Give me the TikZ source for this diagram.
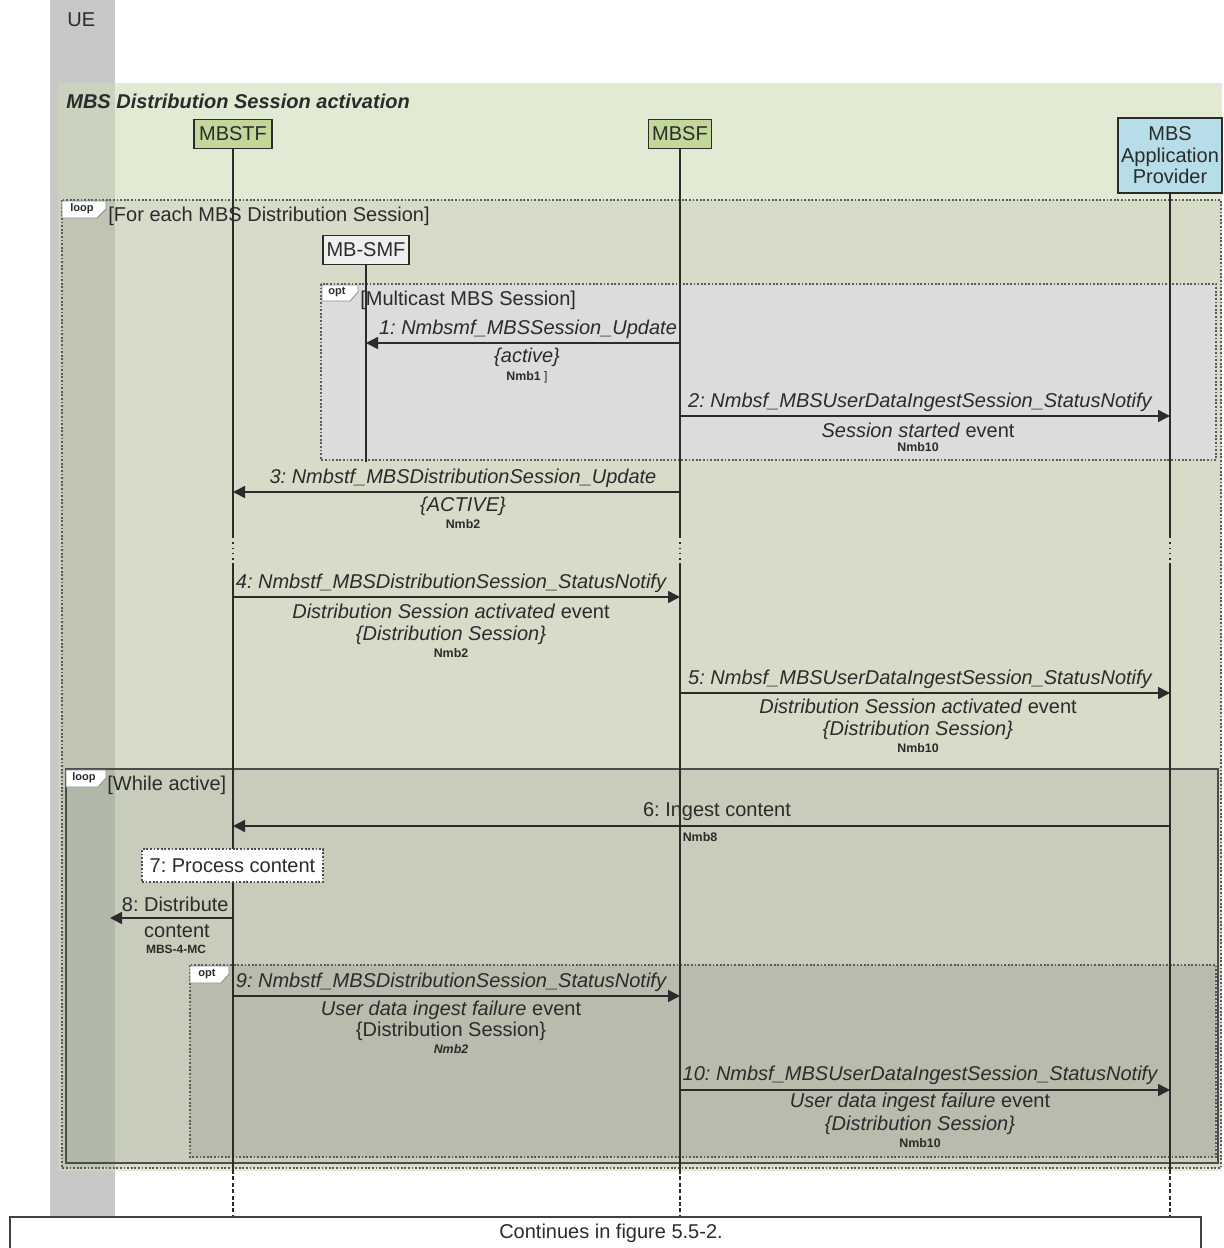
\documentclass[tikz,border=0pt]{standalone}
\usepackage{fontspec}
\setmainfont{Liberation Sans}
\usetikzlibrary{arrows.meta}
\frenchspacing
\definecolor{colgray}{HTML}{C8C8C8}
\definecolor{bggreen}{HTML}{E3EAD4}
\definecolor{loopgreen}{HTML}{D6DCC8}
\definecolor{optgray}{HTML}{DCDCDC}
\definecolor{innerloop}{HTML}{C7CDBA}
\definecolor{inneropt}{HTML}{B7BCAD}
\definecolor{headgreen}{HTML}{C4D79B}
\definecolor{headblue}{HTML}{B7DDE8}
\definecolor{smfgray}{HTML}{EFEFEF}
\definecolor{ink}{HTML}{2B2B2B}
\tikzset{
 lane/.style={draw=ink, line width=0.65pt},
 msg/.style={draw=ink, line width=0.75pt, -{Triangle[length=6pt,width=6pt]}},
 txt/.style={inner sep=0pt, text=ink, font=\fontsize{10}{12}\selectfont},
 itx/.style={inner sep=0pt, text=ink, font=\fontsize{10}{12}\selectfont\itshape},
 sm/.style={inner sep=0pt, text=ink, font=\fontsize{6.2}{7}\selectfont\bfseries},
 head/.style={draw=ink, line width=0.6pt, inner sep=0pt, text=ink, font=\fontsize{10}{10.8}\selectfont, align=center},
 frdot/.style={draw=black!65, line width=0.6pt, dash pattern=on 0.9pt off 0.9pt},
 tagbox/.style={fill=white, draw=black!45, line width=0.4pt},
 tagtxt/.style={inner sep=0pt, text=ink, font=\fontsize{5.5}{5.5}\selectfont\bfseries},
}
\begin{document}
\begin{tikzpicture}[x=0.5pt,y=-0.5pt]
\useasboundingbox (0,0) rectangle (1224,1248);
\fill[white] (0,0) rectangle (1224,1248);
% UE column
\fill[colgray] (50,0) rectangle (115,1217);
\node[txt, anchor=west] (ue) at (67,20) {UE};
% frames backgrounds
\fill[bggreen] (58,83) rectangle (1222,1171);
\fill[loopgreen] (62,200) rectangle (1221,1168);
\fill[optgray] (321,284) rectangle (1216,460);
\fill[innerloop] (66,769) rectangle (1218,1163);
\fill[inneropt] (190,965) rectangle (1216,1157);
% darker strip where the UE column lies under the frames
\fill[black, opacity=0.1] (58,83) rectangle (115,1171);
% frame borders
\draw[frdot] (62,200) rectangle (1221,1168);
\draw[frdot] (321,284) rectangle (1216,460);
\draw[draw=black!70, line width=0.6pt] (66,769) rectangle (1218,1163);
\draw[frdot] (190,965) rectangle (1216,1157);
% tags
\draw[tagbox] (62,201) -- (106,201) -- (106,209) -- (97,218) -- (62,218) -- cycle;
\node[tagtxt] (tag1) at (82,209) {loop};
\draw[tagbox] (322,285) -- (358,285) -- (358,292) -- (350,301) -- (322,301) -- cycle;
\node[tagtxt] (tag2) at (337,292) {opt};
\draw[tagbox] (66,770) -- (106,770) -- (106,778) -- (98,787) -- (66,787) -- cycle;
\node[tagtxt] (tag3) at (84,778) {loop};
\draw[tagbox] (190,966) -- (229,966) -- (229,974) -- (221,983) -- (190,983) -- cycle;
\node[tagtxt] (tag4) at (207,974) {opt};
% frame titles
\node[inner sep=0pt, text=ink, font=\fontsize{10}{12}\selectfont\bfseries\itshape, anchor=west] (title) at (66,101) {MBS Distribution Session activation};
\node[txt, anchor=west] (c1) at (108,216) {[For each MBS Distribution Session]};
\node[txt, anchor=west] (c2) at (360,300) {[Multicast MBS Session]};
\node[txt, anchor=west] (c3) at (107,785) {[While active]};
% lifeline heads
\node[head, fill=headgreen, minimum width=39pt, minimum height=14.5pt] (mbstf) at (233,134) {MBSTF};
\node[head, fill=headgreen, minimum width=31.5pt, minimum height=14.5pt] (mbsf) at (680,134) {MBSF};
\node[head, fill=headblue, minimum width=52pt, minimum height=37.5pt] (ap) at (1170,155.5) {MBS\\Application\\Provider};
\node[head, fill=smfgray, minimum width=43pt, minimum height=14.5pt] (smf) at (366,250) {MB-SMF};
% lifeline coordinates
\coordinate (stf1) at (233,537); \coordinate (stf2) at (233,563); \coordinate (stf3) at (233,1170); \coordinate (stf4) at (233,1217);
\coordinate (sf1) at (680,537); \coordinate (sf2) at (680,563); \coordinate (sf3) at (680,1170); \coordinate (sf4) at (680,1217);
\coordinate (ap1) at (1170,537); \coordinate (ap2) at (1170,563); \coordinate (ap3) at (1170,1170); \coordinate (ap4) at (1170,1217);
\coordinate (smf1) at (366,462);
\draw[lane] (mbstf.south) -- (stf1); \draw[lane, dotted] (stf1) -- (stf2); \draw[lane] (stf2) -- (stf3); \draw[lane, dash pattern=on 2pt off 1.2pt] (stf3) -- (stf4);
\draw[lane] (mbsf.south) -- (sf1); \draw[lane, dotted] (sf1) -- (sf2); \draw[lane] (sf2) -- (sf3); \draw[lane, dash pattern=on 2pt off 1.2pt] (sf3) -- (sf4);
\draw[lane] (ap.south) -- (ap1); \draw[lane, dotted] (ap1) -- (ap2); \draw[lane] (ap2) -- (ap3); \draw[lane, dash pattern=on 2pt off 1.2pt] (ap3) -- (ap4);
\draw[lane] (smf.south) -- (smf1);
% message 1
\coordinate (m1a) at (680,343); \coordinate (m1b) at (366,343);
\draw[msg] (m1a) -- (m1b);
\node[itx] (l1a) at (528,329) {1: Nmbsmf\_MBSSession\_Update};
\node[itx] (l1b) at (527,357) {\{active\}};
\node[sm] (l1c) at (527,377) {Nmb1 \mdseries]};
% message 2
\coordinate (m2a) at (680,416); \coordinate (m2b) at (1170,416);
\draw[msg] (m2a) -- (m2b);
\node[itx] (l2a) at (920,402) {2: Nmbsf\_MBSUserDataIngestSession\_StatusNotify};
\node[txt] (l2b) at (918,430) {\textit{Session started} event};
\node[sm] (l2c) at (918,447) {Nmb10};
% message 3
\coordinate (m3a) at (680,492); \coordinate (m3b) at (233,492);
\draw[msg] (m3a) -- (m3b);
\node[itx] (l3a) at (463,478) {3: Nmbstf\_MBSDistributionSession\_Update};
\node[itx] (l3b) at (463,506) {\{ACTIVE\}};
\node[sm] (l3c) at (463,524) {Nmb2};
% message 4
\coordinate (m4a) at (233,597); \coordinate (m4b) at (680,597);
\draw[msg] (m4a) -- (m4b);
\node[itx] (l4a) at (451,583) {4: Nmbstf\_MBSDistributionSession\_StatusNotify};
\node[txt] (l4b) at (451,611) {\textit{Distribution Session activated} event};
\node[itx] (l4c) at (451,635) {\{Distribution Session\}};
\node[sm] (l4d) at (451,653) {Nmb2};
% message 5
\coordinate (m5a) at (680,693); \coordinate (m5b) at (1170,693);
\draw[msg] (m5a) -- (m5b);
\node[itx] (l5a) at (920,679) {5: Nmbsf\_MBSUserDataIngestSession\_StatusNotify};
\node[txt] (l5b) at (918,706) {\textit{Distribution Session activated} event};
\node[itx] (l5c) at (918,730) {\{Distribution Session\}};
\node[sm] (l5d) at (918,748) {Nmb10};
% message 6
\coordinate (m6a) at (1170,826); \coordinate (m6b) at (233,826);
\draw[msg] (m6a) -- (m6b);
\node[txt] (l6a) at (717,812) {6: Ingest content};
\node[sm] (l6b) at (700,837) {Nmb8};
% step 7
\node[txt, fill=white, draw=black!70, line width=0.6pt, dash pattern=on 0.9pt off 0.9pt, minimum width=90.5pt, minimum height=16.5pt] (p7) at (232.5,865.5) {7: Process content};
% message 8
\coordinate (m8a) at (233,918); \coordinate (m8b) at (110,918);
\draw[msg] (m8a) -- (m8b);
\node[txt, anchor=east] (l8a) at (229,904) {8: Distribute};
\node[txt] (l8b) at (177,931) {content};
\node[sm, font=\fontsize{6}{7}\selectfont\bfseries] (l8c) at (176,949) {MBS-4-MC};
% message 9
\coordinate (m9a) at (233,996); \coordinate (m9b) at (680,996);
\draw[msg] (m9a) -- (m9b);
\node[itx] (l9a) at (451,982) {9: Nmbstf\_MBSDistributionSession\_StatusNotify};
\node[txt] (l9b) at (451,1010) {\textit{User data ingest failure} event};
\node[txt] (l9c) at (451,1031) {\{Distribution Session\}};
\node[sm, font=\fontsize{6.2}{7}\selectfont\bfseries\itshape] (l9d) at (451,1049) {Nmb2};
% message 10
\coordinate (m10a) at (680,1090); \coordinate (m10b) at (1170,1090);
\draw[msg] (m10a) -- (m10b);
\node[itx] (l10a) at (920,1075) {10: Nmbsf\_MBSUserDataIngestSession\_StatusNotify};
\node[txt] (l10b) at (920,1102) {\textit{User data ingest failure} event};
\node[itx] (l10c) at (920,1125) {\{Distribution Session\}};
\node[sm] (l10d) at (920,1143) {Nmb10};
% continuation box
\draw[draw=black!75, line width=0.6pt, fill=white] (10,1217) rectangle (1201,1262);
\node[txt] (cont) at (611,1233) {Continues in figure 5.5-2.};
\end{tikzpicture}
\end{document}
